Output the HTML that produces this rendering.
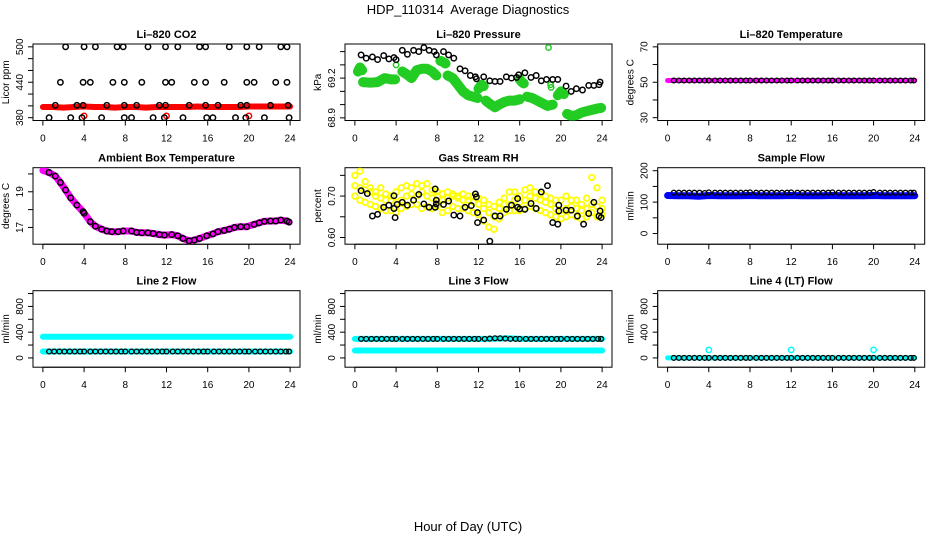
<!DOCTYPE html>
<html><head><meta charset="utf-8"><style>
body{margin:0;background:#fff;}
svg{display:block;font-family:"Liberation Sans",Arial,sans-serif;}
</style></head><body>
<svg id="c" width="936" height="540" viewBox="0 0 936 540">
<text x="468" y="14" text-anchor="middle" font-size="13" style="white-space:pre">HDP_110314  Average Diagnostics</text>
<text x="468" y="531" text-anchor="middle" font-size="13">Hour of Day (UTC)</text>
</svg>
<script>
// ---------- data ----------
const xTicks=[0,4,8,12,16,20,24];
const sampleHours=[0.6,1.1,1.6,2.1,2.6,3.1,3.6,4.0,4.6,5.1,5.6,6.1,6.6,7.1,7.6,8.0,8.6,9.1,9.6,10.1,10.6,11.1,11.6,12.0,12.6,13.1,13.6,14.1,14.6,15.1,15.6,16.0,16.6,17.1,17.6,18.1,18.6,19.1,19.6,20.0,20.6,21.1,21.6,22.1,22.6,23.1,23.6,23.9];
const bandHours=[0,1,2,3,4,5,6,7,8,9,10,11,12,13,14,15,16,17,18,19,20,21,22,23,24];

// CO2
const co2RedVals=[398,398,397,398,399,398,398,397,398,398,397,398,398,398,398,399,398,398,398,398,399,399,399,399,399];
const co2BlackHours=[2.2,4.0,5.1,7.2,7.8,10.2,11.9,13.1,15.2,15.8,18.1,19.8,21.0,23.1,23.7, 1.7,3.9,4.6,6.8,7.9,9.6,11.9,12.5,14.7,15.8,17.6,19.8,20.5,22.6,23.7, 1.2,3.3,3.9,6.2,7.9,9.1,11.3,11.9,14.2,15.8,17.0,19.2,19.8,22.1,23.8, 0.6,2.7,3.8,5.7,7.9,8.6,10.7,11.8,13.6,15.9,16.5,18.7,19.7,21.5,23.9];
const co2BlackVals=[500,500,500,500,500,500,500,500,500,500,500,500,500,500,500, 440,440,440,440,440,440,440,440,440,440,440,440,440,440,440, 401,401,401,401,401,401,401,401,401,401,401,401,401,401,401, 380,380,380,380,380,380,380,380,380,380,380,380,380,380,380];
const co2RedPtHours=[4.0,12.0,20.0];
const co2RedPtVals=[383,383,383];

// Pressure
const presGreenHours=[0.3,0.5,0.7,null,0.8,1.5,2.2,2.9,3.5,3.9,null,4.6,5.0,5.5,6.0,6.5,7.0,7.5,7.9,null,8.3,8.6,8.8,null,9.0,9.5,10.0,10.5,11.0,11.5,11.9,null,12.0,12.3,12.5,null,12.7,13.2,13.6,14.0,14.5,15.0,15.5,16.0,null,16.0,16.2,16.4,null,16.7,17.2,17.7,18.2,18.7,19.2,null,19.7,20.0,20.3,null,20.6,21.0,21.5,22.0,22.5,23.0,23.5,23.9];
const presGreenVals=[69.25,69.28,69.26,null,69.17,69.165,69.17,69.2,69.19,69.19,null,69.25,69.23,69.2,69.26,69.27,69.27,69.25,69.22,null,69.33,69.32,69.31,null,69.22,69.2,69.15,69.1,69.07,69.06,69.05,null,69.12,69.15,69.14,null,69.03,69.0,68.98,69.0,69.02,69.03,69.03,69.04,null,69.19,69.17,69.16,null,69.06,69.05,69.03,69.01,68.99,69.0,null,69.07,69.1,69.08,null,68.93,68.915,68.92,68.94,68.95,68.96,68.97,68.975];
const presGreenPtHours=[18.8,19.0,19.05,4.0];
const presGreenPtVals=[69.43,69.15,69.13,69.3];
const presBlackHours=[0.6,1.1,1.7,2.2,2.8,3.3,3.8,4.0,4.6,5.1,5.7,6.2,6.7,7.2,7.7,7.9,8.6,9.1,9.6,10.2,10.7,11.2,11.7,11.8,12.5,13.1,13.6,14.1,14.7,15.2,15.7,15.9,16.5,17.1,17.6,18.1,18.6,19.2,19.7,20.5,21.0,21.5,22.1,22.7,23.2,23.7,23.8];
const presBlackVals=[69.375,69.35,69.36,69.34,69.37,69.345,69.355,69.34,69.41,69.38,69.41,69.4,69.43,69.41,69.4,69.375,69.4,69.375,69.35,69.27,69.255,69.22,69.21,69.195,69.21,69.18,69.175,69.175,69.21,69.2,69.205,69.225,69.24,69.205,69.22,69.18,69.19,69.19,69.19,69.14,69.1,69.12,69.11,69.145,69.145,69.15,69.17];

// Li-820 temperature
const tempBandVals=[51,51,51,51,51,51,51,51,51,51,51,51,51,51,51,51,51,51,51,51,51,51,51,51,51];
const tempBlackVals=[51,51,51,51,51,51,51,51,51,51,51,51,51,51,51,51,51,51,51,51,51,51,51,51,51,51,51,51,51,51,51,51,51,51,51,51,51,51,51,51,51,51,51,51,51,51,51,51];

// Ambient box temperature
const ambHours=[0,0.6,1.2,1.7,2.2,2.7,3.3,3.9,4.0,4.6,5.1,5.7,6.2,6.7,7.3,7.8,8.6,9.1,9.6,10.2,10.7,11.3,11.8,12.5,13.1,13.6,14.2,14.7,15.2,15.9,16.5,17.0,17.6,18.1,18.6,19.2,19.8,20.5,21.0,21.5,22.1,22.6,23.1,23.7,23.9];
const ambVals=[20.2,20.08,19.88,19.52,19.1,18.66,18.25,17.88,17.8,17.32,17.07,16.9,16.8,16.76,16.76,16.8,16.8,16.72,16.7,16.7,16.66,16.6,16.57,16.6,16.53,16.38,16.25,16.29,16.38,16.53,16.64,16.76,16.83,16.9,17.0,17.04,17.04,17.17,17.26,17.34,17.36,17.36,17.41,17.36,17.3];

// Gas stream RH
const rhYellowHours=[0,0.5,1,1.5,2,2.5,3,3.5,4,4.5,5,5.5,6,6.5,7,7.5,8,8.5,9,9.5,10,10.5,11,11.5,12,12.5,13,13.5,14,14.5,15,15.5,16,16.5,17,17.5,18,18.5,19,19.5,20,20.5,21,21.5,22,22.5,23,23.5,24];
const rhYellowA=[0.725,0.72,0.715,0.71,0.70,0.695,0.69,0.69,0.685,0.69,0.70,0.705,0.70,0.71,0.70,0.695,0.70,0.69,0.695,0.70,0.695,0.69,0.69,0.685,0.68,0.67,0.66,0.65,0.67,0.68,0.68,0.69,0.685,0.69,0.70,0.695,0.69,0.685,0.68,0.67,0.665,0.67,0.675,0.67,0.665,0.67,0.68,0.675,0.67];
const rhYellowB=[0.75,0.76,0.735,0.72,0.71,0.72,0.705,0.70,0.71,0.72,0.725,0.72,0.73,0.725,0.73,0.715,0.71,0.705,0.71,0.705,0.70,0.705,0.70,0.70,0.695,0.69,0.68,0.675,0.685,0.695,0.71,0.71,0.70,0.715,0.72,0.71,0.705,0.70,0.695,0.69,0.69,0.70,0.69,0.69,0.68,0.695,0.745,0.72,0.69];
const rhYellowC=[0.70,0.69,0.685,0.68,0.675,0.67,0.665,0.665,0.66,0.67,0.675,0.68,0.68,0.67,0.675,0.67,0.675,0.66,0.665,0.675,0.67,0.67,0.665,0.66,0.655,0.64,0.625,0.62,0.645,0.66,0.665,0.665,0.665,0.67,0.675,0.67,0.665,0.66,0.655,0.65,0.645,0.65,0.655,0.65,0.645,0.65,0.66,0.65,0.655];
const rhBlackHours=[0.6,1.2,1.7,2.2,2.8,3.3,3.8,3.8,3.9,4.1,4.6,5.1,5.7,6.2,6.7,7.2,7.8,7.9,7.8,7.9,8.6,9.1,9.6,10.2,10.7,11.3,11.7,11.8,11.9,11.9,12.5,13.1,13.6,14.1,14.7,15.2,15.8,15.8,16.0,16.5,17.1,17.6,18.1,18.7,19.2,19.7,19.8,19.8,20.5,21.0,21.6,22.2,22.7,23.2,23.8,23.7,23.9];
const rhBlackVals=[0.713,0.706,0.652,0.656,0.673,0.678,0.701,0.67,0.648,0.68,0.685,0.678,0.69,0.704,0.681,0.673,0.717,0.69,0.673,0.681,0.68,0.688,0.654,0.652,0.673,0.677,0.705,0.698,0.66,0.636,0.642,0.591,0.652,0.652,0.668,0.678,0.694,0.673,0.669,0.668,0.682,0.67,0.71,0.725,0.636,0.632,0.678,0.664,0.666,0.666,0.652,0.632,0.658,0.685,0.664,0.652,0.648];

// Sample flow
const sampleBlueVals=[121,120,120,119,121,120,120,120,121,120,120,120,121,120,120,120,121,120,120,120,121,120,120,120,120];
const sampleBlackVals=[130,130,130,130,130,130,129,131,130,130,130,130,130,130,130,131,130,130,130,130,130,130,130,131,130,130,130,130,130,130,130,131,130,130,130,130,130,130,130,132,130,130,130,130,130,130,130,130];

// Line flows
const line2UpperVals=[330,330,330,330,330,330,330,330,330,330,330,330,330,330,330,330,330,330,330,330,330,330,330,330,330];
const line2LowerVals=[100,100,100,100,100,100,100,100,100,100,100,100,100,100,100,100,100,100,100,100,100,100,100,100,100];
const line2BlackVals=[100,100,100,100,100,100,100,100,100,100,100,100,100,100,100,100,100,100,100,100,100,100,100,100,100,100,100,100,100,100,100,100,100,100,100,100,100,100,100,100,100,100,100,100,100,100,100,100];
const line3UpperVals=[295,295,295,295,295,295,295,295,295,295,295,295,295,295,300,305,295,295,295,295,295,295,295,295,295];
const line3LowerVals=[115,115,115,115,115,115,115,115,115,115,115,115,115,115,115,115,115,115,115,115,115,115,115,115,115];
const line3BlackVals=[295,295,295,295,295,295,295,295,295,295,295,295,295,295,295,295,295,295,295,295,295,295,295,295,295,300,305,305,300,295,295,295,295,295,295,295,295,295,295,295,295,295,295,295,295,295,295,295];
const line4CyanVals=[0,0,0,0,0,0,0,0,0,0,0,0,0,0,0,0,0,0,0,0,0,0,0,0,0];
const line4CyanPtHours=[4.0,12.0,20.0];
const line4CyanPtVals=[125,125,125];
const line4BlackVals=[0,0,0,0,0,0,0,0,0,0,0,0,0,0,0,0,0,0,0,0,0,0,0,0,0,0,0,0,0,0,0,0,0,0,0,0,0,0,0,0,0,0,0,0,0,0,0,0];

// ---------- drawing ----------
const NS='http://www.w3.org/2000/svg';
const svg=document.getElementById('c');
function mk(tag,attrs,parent){const e=document.createElementNS(NS,tag);for(const k in attrs)e.setAttribute(k,attrs[k]);(parent||svg).appendChild(e);return e;}

const colLeft=[33,345,657.7];
const rowTop=[44,167.7,290.7];
const W=267,H=76.5;

function panel(col,row,title,ylab,ymin,ymax,yTicks,yLabels,slug){
  const L=colLeft[col],T=rowTop[row];
  const g=mk('g',{});
  
  
  const xs=h=>L+(h+0.96)*W/25.92;
  const ys=v=>T+H-(v-ymin)/(ymax-ymin)*H;
  const box=mk('rect',{x:L,y:T,width:W,height:H,fill:'none',stroke:'#000','stroke-width':1},g);
  
  
  const t=mk('text',{x:L+W/2,y:T-6,'text-anchor':'middle','font-size':11,'font-weight':'bold'},g);
  t.textContent=title;
  
  
  const xa=mk('g',{},g);
  
  
  mk('line',{x1:xs(xTicks[0]),x2:xs(xTicks[xTicks.length-1]),y1:T+H,y2:T+H,stroke:'#000'},xa);
  xTicks.forEach(v=>{
    mk('line',{x1:xs(v),x2:xs(v),y1:T+H,y2:T+H+5,stroke:'#000'},xa);
    const tl=mk('text',{x:xs(v),y:T+H+21,'text-anchor':'middle','font-size':10},xa);
    tl.textContent=v;
    
    
  });
  const ya=mk('g',{},g);
  
  
  mk('line',{x1:L,x2:L,y1:ys(yTicks[0]),y2:ys(yTicks[yTicks.length-1]),stroke:'#000'},ya);
  yTicks.forEach(v=>{mk('line',{x1:L-5,x2:L,y1:ys(v),y2:ys(v),stroke:'#000'},ya);});
  yLabels.forEach(v=>{
    const tl=mk('text',{x:0,y:0,'text-anchor':'middle','font-size':10,transform:`translate(${L-10},${ys(v)}) rotate(-90)`},ya);
    tl.textContent=v;
    
    
  });
  const yt=mk('text',{x:0,y:0,'text-anchor':'middle','font-size':10,transform:`translate(${L-24},${T+H/2}) rotate(-90)`},g);
  yt.textContent=ylab;
  
  
  const clip='clip'+slug;
  const cp=mk('clipPath',{id:clip},g);mk('rect',{x:L,y:T,width:W,height:H},cp);
  const data=mk('g',{'clip-path':`url(#${clip})`},g);
  return {xs,ys,g:data};
}
function band(p,hours,vals,color,w,name){
  let d='',pen=false;
  for(let i=0;i<hours.length;i++){
    if(hours[i]===null||vals[i]===null){pen=false;continue;}
    d+=(pen?'L':'M')+p.xs(hours[i]).toFixed(1)+' '+p.ys(vals[i]).toFixed(1)+' ';pen=true;
  }
  const e=mk('path',{d:d,fill:'none',stroke:color,'stroke-width':w,'stroke-linecap':'round','stroke-linejoin':'round'},p.g);
  
  
}
function pts(p,hours,vals,color,name,r,sw){
  const gg=mk('g',{},p.g);
  
  
  for(let i=0;i<hours.length;i++){
    const c=mk('circle',{cx:p.xs(hours[i]).toFixed(1),cy:p.ys(vals[i]).toFixed(1),r:r||2.7,fill:'none',stroke:color,'stroke-width':sw||1.5},gg);
    
    
  }
}

let p=panel(0,0,'Li\u2013820 CO2','Licor ppm',375.2,504.8,[380,400,420,440,460,480,500],[380,440,500],'co2');
band(p,bandHours,co2RedVals,'#f00',6,'co2-red-band');
pts(p,co2RedPtHours,co2RedPtVals,'#f00','co2-red-points');
pts(p,co2BlackHours,co2BlackVals,'#000','co2-black-points');

p=panel(1,0,'Li\u2013820 Pressure','kPa',68.88,69.4575,[68.9,69.0,69.1,69.2,69.3,69.4],[68.9,69.2],'pressure');
band(p,presGreenHours,presGreenVals,'#22cc22',10,'pressure-green-band');
pts(p,presGreenPtHours,presGreenPtVals,'#22cc22','pressure-green-points');
pts(p,presBlackHours,presBlackVals,'#000','pressure-black-points');

p=panel(2,0,'Li\u2013820 Temperature','degrees C',28.4,71.6,[30,40,50,60,70],[30,50,70],'li820-temp');
band(p,bandHours,tempBandVals,'#ff00ff',5,'li820-temp-magenta-band');
pts(p,sampleHours,tempBlackVals,'#000','li820-temp-black-points',2.4,1.3);

p=panel(0,1,'Ambient Box Temperature','degrees C',16.06,20.35,[17,18,19,20],[17,19],'ambient-temp');
band(p,ambHours,ambVals,'#ff00ff',7,'ambient-magenta-band');
pts(p,ambHours.slice(1),ambVals.slice(1),'#000','ambient-black-points');

p=panel(1,1,'Gas Stream RH','percent',0.5838,0.7685,[0.60,0.65,0.70,0.75],['0.60','0.70'],'rh');
pts(p,rhYellowHours,rhYellowA,'#ffff00','rh-yellow-points-a',2.8,1.8);
pts(p,rhYellowHours,rhYellowB,'#ffff00','rh-yellow-points-b',2.8,1.8);
pts(p,rhYellowHours,rhYellowC,'#ffff00','rh-yellow-points-c',2.8,1.8);
pts(p,rhBlackHours,rhBlackVals,'#000','rh-black-points');

p=panel(2,1,'Sample Flow','ml/min',-34,209.6,[0,50,100,150,200],[0,100,200],'sample-flow');
band(p,bandHours,sampleBlueVals,'#0000ff',7,'sample-flow-blue-band');
pts(p,sampleHours,sampleBlackVals,'#000','sample-flow-black-points',2.4,1.3);

const lt=[0,200,400,600,800,1000],ll=[0,400,800];
p=panel(0,2,'Line 2 Flow','ml/min',-144,1044,lt,ll,'line2-flow');
band(p,bandHours,line2UpperVals,'#00ffff',6,'line2-cyan-upper');
band(p,bandHours,line2LowerVals,'#00ffff',6,'line2-cyan-lower');
pts(p,sampleHours,line2BlackVals,'#000','line2-black-points',2.4,1.3);

p=panel(1,2,'Line 3 Flow','ml/min',-144,1044,lt,ll,'line3-flow');
band(p,bandHours,line3UpperVals,'#00ffff',6,'line3-cyan-upper');
band(p,bandHours,line3LowerVals,'#00ffff',6,'line3-cyan-lower');
pts(p,sampleHours,line3BlackVals,'#000','line3-black-points',2.4,1.3);

p=panel(2,2,'Line 4 (LT) Flow','ml/min',-144,1044,lt,ll,'line4-flow');
band(p,bandHours,line4CyanVals,'#00ffff',5,'line4-cyan-band');
pts(p,line4CyanPtHours,line4CyanPtVals,'#00ffff','line4-cyan-points');
pts(p,sampleHours,line4BlackVals,'#000','line4-black-points',2.4,1.3);
</script>
</body></html>
